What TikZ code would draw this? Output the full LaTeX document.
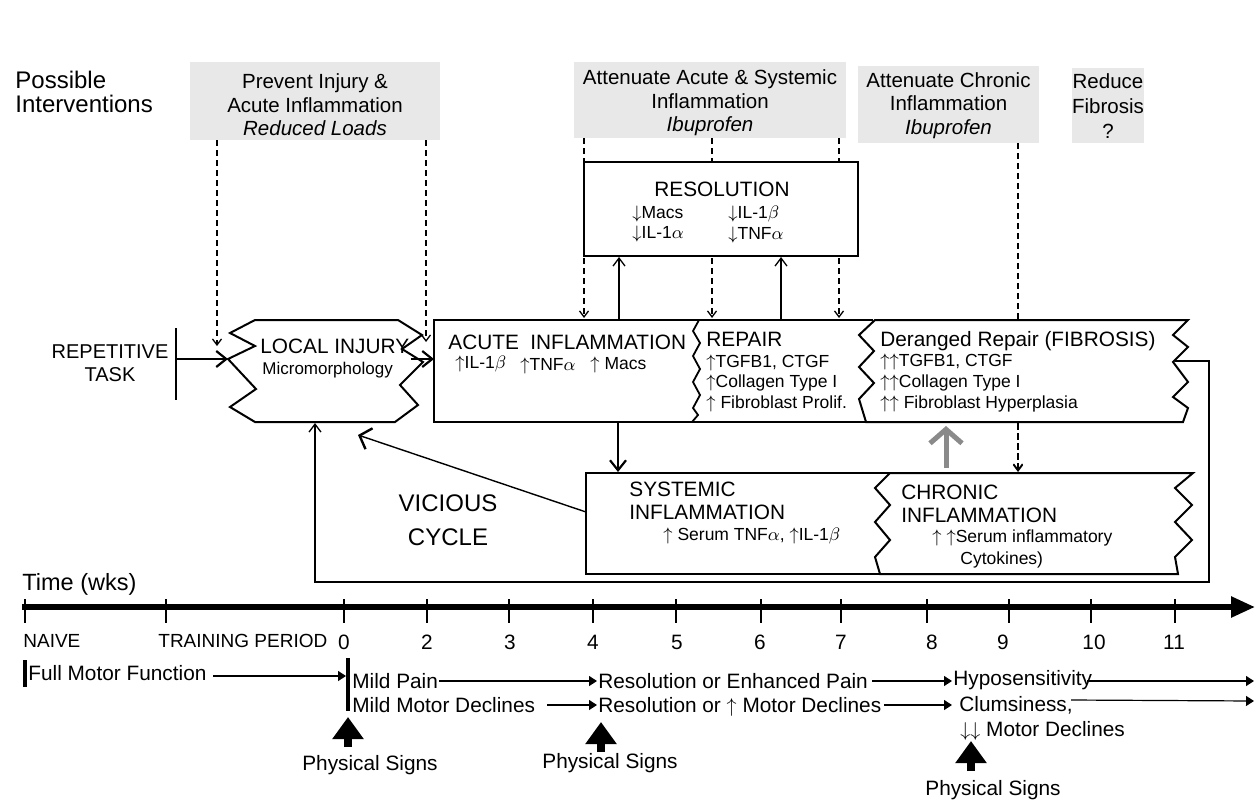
\documentclass[tikz,border=0pt]{standalone}
\usepackage{fontspec}
\setmainfont{Liberation Sans}
\usetikzlibrary{arrows.meta}
\definecolor{boxgray}{RGB}{232,232,232}
\definecolor{arrgray}{RGB}{138,138,138}
\newcommand{\ua}{\smash{\ensuremath{\uparrow}}}
\newcommand{\da}{\smash{\ensuremath{\downarrow}}}
\tikzset{
  fbig/.style={font=\fontsize{12}{12}\selectfont},
  fhdr/.style={font=\fontsize{10.4}{11.5}\selectfont},
  fbx/.style={font=\fontsize{10.25}{11.75}\selectfont},
  fsm/.style={font=\fontsize{8.75}{10.4}\selectfont},
  ftl/.style={font=\fontsize{10.4}{12}\selectfont},
  fnv/.style={font=\fontsize{9.5}{10}\selectfont},
  lbl/.style={inner sep=0pt, anchor=west, align=left},
  ctr/.style={inner sep=0pt, anchor=center, align=center},
  gbox/.style={fill=boxgray, inner sep=0pt},
  btxt/.style={inner sep=0pt, align=center, fbx},
  bord/.style={line width=1pt, line join=miter},
  dshln/.style={dash pattern=on 3pt off 2pt, line width=0.65pt},
  dsharr/.style={dshln, -{Straight Barb[length=3pt,width=4.5pt,line width=0.65pt]}},
  arrthick/.style={line width=0.65pt, -{Straight Barb[length=5pt,width=8pt,line width=1.1pt]}},
  arrbig/.style={line width=0.7pt, -{Straight Barb[length=5pt,width=11pt,line width=1.2pt]}},
  arrthin/.style={line width=0.65pt, -{Straight Barb[length=4pt,width=6pt,line width=0.65pt]}},
  tlarr/.style={line width=0.6pt, -{Triangle[length=4pt,width=5pt]}},
  sigarr/.style={line width=4pt, -{Triangle[length=11pt,width=15pt]}},
  grayarr/.style={arrgray, line width=2.5pt, -{Straight Barb[length=7pt,width=16pt,line width=2.5pt]}},
  tick/.style={line width=0.6pt},
  vbar/.style={line width=2pt},
}
\begin{document}
\begin{tikzpicture}[x=0.5pt,y=-0.5pt]
\useasboundingbox (0,0) rectangle (1256,803);
\fill[white] (0,0) rectangle (1256,803);

% ---------- possible interventions ----------
\node[lbl, fbig] (poss) at (15,92) {Possible\\Interventions};
\node[gbox, minimum width=125pt, minimum height=39pt] (iv1) at (315,101) {};
\node[gbox, minimum width=136pt, minimum height=38pt] (iv2) at (710,100) {};
\node[gbox, minimum width=90.5pt, minimum height=38.5pt] (iv3) at (948.5,104.5) {};
\node[gbox, minimum width=36pt, minimum height=37.5pt] (iv4) at (1108,105.5) {};
\node[btxt] (iv1t) at (315,105) {Prevent Injury \&\\Acute Inflammation\\\textit{Reduced Loads}};
\node[btxt] (iv2t) at (710,103) {Attenuate Acute \& Systemic\\Inflammation\\\textit{Ibuprofen}};
\node[btxt] (iv3t) at (948.5,105.5) {Attenuate Chronic\\Inflammation\\\textit{Ibuprofen}};
\node[btxt, font=\fontsize{10.25}{12.5}\selectfont] (iv4t) at (1108,106) {Reduce\\Fibrosis\\?};

% ---------- dashed intervention lines ----------
\coordinate (d1a) at (217,140);  \coordinate (d1b) at (217,346);
\coordinate (d2a) at (426,140);  \coordinate (d2b) at (426,342);
\coordinate (d3a) at (584,138);  \coordinate (d3b) at (584,318);
\coordinate (d4a) at (712,138);  \coordinate (d4b) at (712,318);
\coordinate (d5a) at (839,138);  \coordinate (d5b) at (839,318);
\coordinate (d6a) at (1018,143); \coordinate (d6b) at (1018,472);
\draw[dsharr] (d1a) -- (d1b);
\draw[dsharr] (d2a) -- (d2b);
\draw[dsharr] (d3a) -- (d3b);
\draw[dsharr] (d4a) -- (d4b);
\draw[dsharr] (d5a) -- (d5b);
\draw[dsharr] (d6a) -- (d6b);

% ---------- resolution ----------
\node[draw, bord, fill=white, minimum width=137pt, minimum height=47pt, inner sep=0pt] (res) at (721,209) {};
\node[ctr, fhdr] (restitle) at (722,189) {RESOLUTION};
\node[lbl, fsm] (resa) at (632,222.5) {\da Macs\\\da IL-1$\alpha$};
\node[lbl, fsm] (resb) at (728,222.5) {\da IL-1$\beta$\\\da TNF$\alpha$};

% ---------- repetitive task & local injury ----------
\node[ctr, font=\fontsize{10}{11.5}\selectfont] (rep) at (110,363) {REPETITIVE\\TASK};
\coordinate (rbt) at (176,328); \coordinate (rbb) at (176,400);
\draw[line width=1pt] (rbt) -- (rbb);
\coordinate (rbm) at (176,359); \coordinate (liL) at (228,359);
\draw[arrthick] (rbm) -- (liL);

\draw[bord] (255,320) -- (398,320) -- (422,335) -- (402,349) -- (423,362) -- (400,385) -- (418,405) -- (395,422)
  -- (255,422) -- (230,407) -- (256,389) -- (228,359) -- (255,346) -- (230,333) -- cycle;
\node[lbl, fhdr] (li) at (260,346) {LOCAL INJURY};
\node[lbl, font=\fontsize{8.5}{10}\selectfont] (lim) at (262,370) {Micromorphology};

% ---------- acute inflammation / repair ----------
\draw[bord] (873,320) -- (434,320) -- (434,422) -- (866,422);
\draw[line width=0.9pt] (699,320) -- (693,331) -- (700,343) -- (693,356) -- (700,369) -- (693,382) -- (700,395) -- (693,408) -- (698,415) -- (692,422);
\coordinate (liR) at (411,359); \coordinate (acL) at (434,359);
\draw[arrthick] (liR) -- (acL);
\node[lbl, fhdr] (acute) at (448,342) {ACUTE~~INFLAMMATION};
\node[lbl, fsm] (ac1) at (455,364) {\ua IL-1$\beta$};
\node[lbl, fsm] (ac2) at (520,364) {\ua TNF$\alpha$};
\node[lbl, fsm] (ac3) at (590,364) {\ua{} Macs};
\node[lbl, fhdr] (repair) at (706,339) {REPAIR};
\node[lbl, font=\fontsize{8.75}{10.25}\selectfont] (repb) at (706,381.5) {\ua TGFB1, CTGF\\\ua Collagen Type I\\\ua{} Fibroblast Prolif.};

% up arrows to resolution
\coordinate (u1a) at (619,320); \coordinate (u1b) at (619,257);
\coordinate (u2a) at (781,320); \coordinate (u2b) at (781,257);
\draw[arrthin] (u1a) -- (u1b);
\draw[arrthin] (u2a) -- (u2b);

% ---------- deranged repair ----------
\draw[bord, fill=white] (875,320) -- (1188,320) -- (1173,335) -- (1188,347) -- (1173,362) -- (1188,382) -- (1173,397) -- (1188,408) -- (1183,422)
  -- (866,422) -- (859,399) -- (874,383) -- (859,367) -- (874,351) -- (859,335) -- cycle;
\node[lbl, fhdr] (der) at (880,341) {Deranged Repair (FIBROSIS)};
\node[lbl, font=\fontsize{8.75}{10.5}\selectfont] (derb) at (880,383) {\ua\ua TGFB1, CTGF\\\ua\ua Collagen Type I\\\ua\ua{} Fibroblast Hyperplasia};
\coordinate (d6c) at (1018,424); \coordinate (d6d) at (1018,471);
\draw[dsharr] (d6c) -- (d6d);

% ---------- systemic / chronic ----------
\draw[bord] (890,473) -- (586,473) -- (586,574) -- (880,574);
\draw[bord, fill=white] (890,473) -- (1193,473) -- (1175,488) -- (1192,505) -- (1175,522) -- (1192,540) -- (1175,557) -- (1178,574)
  -- (880,574) -- (875,557) -- (890,540) -- (875,522) -- (890,505) -- (875,488) -- cycle;
\node[lbl, fhdr] (sys) at (629,500.5) {SYSTEMIC\\INFLAMMATION};
\node[lbl, fsm] (sysb) at (663,536) {\ua{} Serum TNF$\alpha$, \ua IL-1$\beta$};
\node[lbl, fhdr] (chr) at (901,503.5) {CHRONIC\\INFLAMMATION};
\node[lbl, fsm] (chrb) at (932,538) {\ua{} \ua Serum inflammatory};
\node[lbl, fsm] (chrc) at (960,560) {Cytokines)};

\coordinate (acB) at (618,422); \coordinate (sysT) at (618,472);
\draw[arrthick] (acB) -- (sysT);
\coordinate (chT) at (946,468); \coordinate (derB) at (946,426);
\draw[grayarr] (chT) -- (derB);

% vicious cycle
\node[ctr, font=\fontsize{12}{17}\selectfont] (vc) at (448,520) {VICIOUS\\CYCLE};
\coordinate (sysL) at (586,512); \coordinate (liBR) at (358,435);
\draw[arrbig] (sysL) -- (liBR);

% feedback loop
\coordinate (derR) at (1175,361); \coordinate (fb1) at (1209,361);
\coordinate (fb2) at (1209,582); \coordinate (fb3) at (315,582);
\coordinate (liB) at (315,423);
\draw[arrthin] (derR) -- (fb1) -- (fb2) -- (fb3) -- (liB);

% ---------- timeline ----------
\node[lbl, font=\fontsize{11.75}{12}\selectfont] (time) at (22,584) {Time (wks)};
\coordinate (ax0) at (22,607); \coordinate (ax1) at (1255,607);
\draw[line width=2.75pt, -{Triangle[length=12pt,width=10pt]}] (ax0) -- (ax1);
\foreach \x in {25,166,344,427,509,593,676,761,841,927,1009,1091,1175}
  \draw[tick] (\x,599) -- (\x,623);
\node[lbl, fnv] (naive) at (23,641) {NAIVE};
\node[lbl, fnv] (train) at (158,641) {TRAINING PERIOD};
\foreach \x/\t [count=\i] in {344/0,427/2,510/3,593/4,677/5,760/6,841/7,932/8,1003/9,1094/10,1174/11}
  \node[ctr, ftl] (wk\i) at (\x,642) {\t};

% row 1
\draw[vbar] (25,660) -- (25,687);
\node[lbl, ftl] (fmf) at (28,673) {Full Motor Function};
\coordinate (r1a) at (213,676); \coordinate (r1b) at (346,676);
\draw[tlarr] (r1a) -- (r1b);
\draw[vbar] (348,658) -- (348,711);
\node[lbl, ftl] (mp) at (352,681) {Mild Pain};
\node[lbl, ftl] (rep1) at (598,681) {Resolution or Enhanced Pain};
\node[lbl, ftl] (hypo) at (953,680) {Hyposensitivity};
\coordinate (r2a) at (439,681); \coordinate (r2b) at (597,681);
\coordinate (r3a) at (872,681); \coordinate (r3b) at (952,681);
\coordinate (r4a) at (1087,681); \coordinate (r4b) at (1254,681);
\draw[tlarr] (r2a) -- (r2b);
\draw[tlarr] (r3a) -- (r3b);
\draw[tlarr] (r4a) -- (r4b);

% row 2
\node[lbl, ftl] (mmd) at (352,705) {Mild Motor Declines};
\node[lbl, ftl] (rmd) at (598,705) {Resolution or \ua{} Motor Declines};
\node[lbl, ftl] (clum) at (959,705) {Clumsiness,};
\node[lbl, ftl] (mdd) at (960,729) {\da\da{} Motor Declines};
\coordinate (s1a) at (547,705); \coordinate (s1b) at (597,705);
\coordinate (s2a) at (884,705); \coordinate (s2b) at (952,705);
\coordinate (s3a) at (1071,700); \coordinate (s3b) at (1254,701);
\draw[tlarr] (s1a) -- (s1b);
\draw[tlarr] (s2a) -- (s2b);
\draw[tlarr] (s3a) -- (s3b);

% physical signs
\coordinate (p1a) at (348,747); \coordinate (p1b) at (348,717);
\coordinate (p2a) at (601,752); \coordinate (p2b) at (601,722);
\coordinate (p3a) at (971,771); \coordinate (p3b) at (971,741);
\draw[sigarr] (p1a) -- (p1b);
\draw[sigarr] (p2a) -- (p2b);
\draw[sigarr] (p3a) -- (p3b);
\node[ctr, ftl] (ps1) at (370,765) {Physical Signs};
\node[ctr, ftl] (ps2) at (610,763) {Physical Signs};
\node[ctr, ftl] (ps3) at (993,790) {Physical Signs};
\end{tikzpicture}
\end{document}
